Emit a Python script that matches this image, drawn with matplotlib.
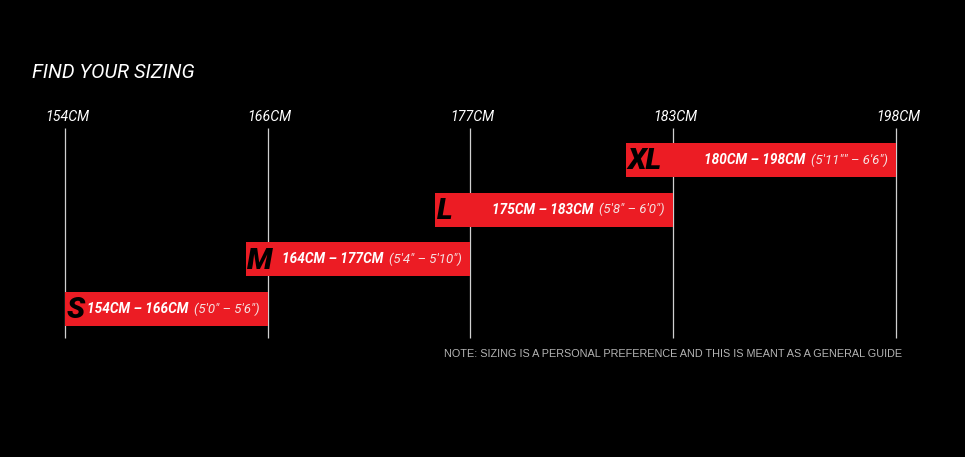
import numpy as np
import matplotlib
matplotlib.use('Agg')
import matplotlib.pyplot as plt

# tick marks along the top (cm)
tick_cm = [154, 166, 177, 183, 198]
tick_labels = ['154CM', '166CM', '177CM', '183CM', '198CM']

# size bars (start/end in cm as drawn)
sizes = ['S', 'M', 'L', 'XL']
bar_start = [154, 164.7, 175.1, 181.6]
bar_end = [166, 177, 183, 198]
cm_text = ['154CM – 166CM', '164CM – 177CM', '175CM – 183CM', '180CM – 198CM']
ft_text = ['(5\'0" – 5\'6")', '(5\'4" – 5\'10")', '(5\'8" – 6\'0")', '(5\'11"" – 6\'6")']

RED = '#ec1c24'
FONT = ['Roboto', 'DejaVu Sans']

# the chart spaces its ticks evenly-ish, not linearly in cm
tick_pos = [0, 1, 2, 3, 4.1]


def to_pos(cm):
    return np.interp(cm, tick_cm, tick_pos)


fig = plt.figure(figsize=(9.65, 4.57), dpi=100, facecolor='black')
ax = fig.add_axes([0, 0, 1, 1])
ax.set_facecolor('black')
ax.set_xlim(-0.3207, 4.440)
ax.set_ylim(-2.98, 6.22)
ax.axis('off')

# vertical guide lines
xs = to_pos(tick_cm)
ax.vlines(xs, -0.58, 3.64, color='#d0d0d0', lw=0.9, zorder=1)
for x, lab in zip(xs, tick_labels):
    ax.text(x + 0.01, 3.86, lab, color='white', fontsize=10.2, style='italic',
            family=FONT, ha='center', va='center')

# bars
left = to_pos(bar_start)
right = to_pos(bar_end)
rows = np.arange(len(sizes))
ax.barh(rows, right - left, left=left, height=0.68, color=RED, zorder=2)

for r, l, rt, s, ct, ft in zip(rows, left, right, sizes, cm_text, ft_text):
    ax.annotate(s, (l, r), xytext=(1, -1), textcoords='offset points',
                color='black', fontsize=21.5, weight='black', style='italic',
                family=FONT, ha='left', va='center', zorder=3)
    t_ft = ax.annotate(ft, (rt, r), xytext=(-6, 0), textcoords='offset points',
                       color='#f6e2e2', fontsize=9.5, style='italic',
                       family=FONT, ha='right', va='center', zorder=3)
    ax.annotate(ct, xy=(0, 0.5), xycoords=t_ft, xytext=(-4, 0),
                textcoords='offset points', color='white', fontsize=9.8,
                weight='bold', style='italic', family=FONT,
                ha='right', va='center', zorder=3)

fig.text(32 / 965, 1 - 72 / 457, 'FIND YOUR SIZING', color='white', fontsize=14.4,
         style='italic', family=FONT, ha='left', va='center')
fig.text(902 / 965, 1 - 354 / 457,
         'NOTE: SIZING IS A PERSONAL PREFERENCE AND THIS IS MEANT AS A GENERAL GUIDE',
         color='#b4b4b4', fontsize=7.8, family=['Liberation Sans', 'DejaVu Sans'],
         ha='right', va='center')

fig.savefig('out.png', dpi=100, facecolor='black')
